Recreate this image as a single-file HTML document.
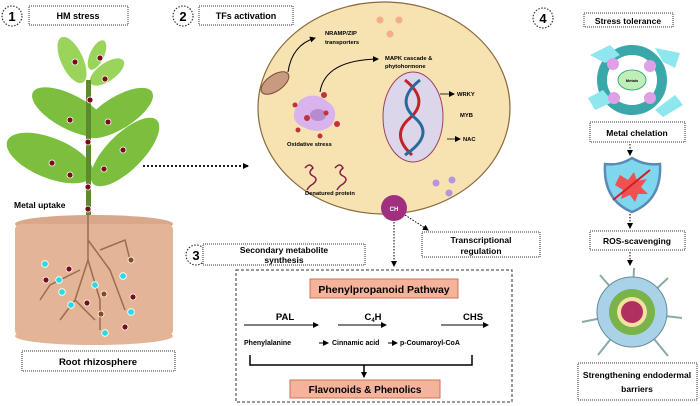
<!DOCTYPE html>
<html><head><meta charset="utf-8"><style>
body{margin:0;background:#fff}
svg{display:block;font-family:"Liberation Sans",Arial,sans-serif;font-weight:bold}
</style></head><body>
<svg width="700" height="406" viewBox="0 0 700 406" xmlns="http://www.w3.org/2000/svg">
<defs>
<marker id="ah" markerWidth="6" markerHeight="6" refX="5" refY="3" orient="auto" markerUnits="userSpaceOnUse"><path d="M0,0L6,3L0,6z" fill="#000"/></marker>
</defs>
<g fill="#fff" stroke="#334" stroke-dasharray="1.5,1.5" stroke-width="1.2">
<circle cx="12" cy="16" r="10"/><circle cx="183" cy="16" r="10"/><circle cx="196" cy="255" r="10"/><circle cx="543" cy="18" r="10"/>
</g>
<g font-size="13" text-anchor="middle"><text x="12" y="21">1</text><text x="183" y="21">2</text><text x="196" y="260">3</text><text x="543" y="23">4</text></g>
<g fill="#fff" stroke="#333" stroke-dasharray="1,1" stroke-width="1">
<rect x="29" y="6" width="99" height="19"/><rect x="199" y="6" width="94" height="19"/>
<rect x="22" y="351" width="153" height="20"/><rect x="203" y="244" width="162" height="21"/>
<rect x="422" y="232" width="118" height="25"/><rect x="584" y="13" width="89" height="14"/>
<rect x="590" y="122" width="95" height="20"/><rect x="590" y="231" width="95" height="19"/>
<rect x="578" y="363" width="119" height="37"/>
</g>
<g font-size="9" text-anchor="middle">
<text x="78" y="19">HM stress</text><text x="246" y="19">TFs activation</text>
<text x="98" y="365" font-size="9.5">Root rhizosphere</text>
<text x="284" y="253" font-size="8.5">Secondary metabolite</text><text x="284" y="263" font-size="8.5">synthesis</text>
<text x="481" y="243" font-size="8.5">Transcriptional</text><text x="481" y="254" font-size="8.5">regulation</text>
<text x="628" y="24" font-size="8.5">Stress tolerance</text><text x="637" y="136" font-size="8.5">Metal chelation</text>
<text x="637" y="244" font-size="8.5">ROS-scavenging</text>
<text x="637" y="378" font-size="8.5">Strengthening endodermal</text><text x="637" y="392" font-size="8.5">barriers</text>
</g>
<!-- plant -->
<ellipse cx="94" cy="224" rx="79" ry="9" fill="#d9a88a"/>
<rect x="15" y="224" width="158" height="112" rx="6" fill="#e3b596"/>
<ellipse cx="94" cy="336" rx="79" ry="9" fill="#e3b596"/>
<g stroke="#9b6d4e" stroke-width="1.5" fill="none">
<path d="M88,215 L88,260 L75,300 L60,320"/><path d="M88,240 L110,270 L125,310"/><path d="M88,260 L100,300 L100,330"/><path d="M80,270 L50,285 L40,300"/><path d="M100,250 L125,240 L130,260"/><path d="M75,300 L95,320"/>
</g>
<g fill="#7cbf3f">
<ellipse cx="70" cy="112" rx="42" ry="17" transform="rotate(28 70 112)"/>
<ellipse cx="118" cy="113" rx="40" ry="16" transform="rotate(-32 118 113)"/>
<ellipse cx="50" cy="158" rx="46" ry="20" transform="rotate(22 50 158)"/>
<ellipse cx="125" cy="152" rx="45" ry="18" transform="rotate(-45 125 152)"/>
</g>
<g fill="#9bd45a">
<ellipse cx="72" cy="60" rx="25" ry="11" transform="rotate(65 72 60)"/>
<ellipse cx="107" cy="72" rx="20" ry="9" transform="rotate(-35 107 72)"/>
<ellipse cx="97" cy="55" rx="16" ry="7" transform="rotate(-65 97 55)"/>
</g>
<rect x="86" y="80" width="5" height="135" fill="#5d8a2e"/>
<g fill="#7a0d1a" stroke="#fff" stroke-width="0.8">
<circle cx="75" cy="62" r="3"/><circle cx="100" cy="58" r="3"/><circle cx="105" cy="79" r="3"/><circle cx="90" cy="100" r="3"/><circle cx="70" cy="120" r="3"/><circle cx="108" cy="122" r="3"/><circle cx="88" cy="142" r="3"/><circle cx="123" cy="150" r="3"/><circle cx="52" cy="163" r="3"/><circle cx="70" cy="175" r="3"/><circle cx="104" cy="169" r="3"/><circle cx="88" cy="187" r="3"/><circle cx="88" cy="209" r="3"/>
<circle cx="69" cy="269" r="3"/><circle cx="46" cy="280" r="3"/><circle cx="87" cy="303" r="3"/><circle cx="133" cy="297" r="3"/><circle cx="125" cy="327" r="3"/>
</g>
<g fill="#8a4a1c" stroke="#fff" stroke-width="0.8"><circle cx="131" cy="260" r="3"/><circle cx="104" cy="294" r="3"/><circle cx="101" cy="314" r="3"/></g>
<g fill="#29d9e6" stroke="#fff" stroke-width="0.8"><circle cx="45" cy="264" r="3.3"/><circle cx="59" cy="280" r="3.3"/><circle cx="62" cy="292" r="3.3"/><circle cx="71" cy="305" r="3.3"/><circle cx="95" cy="285" r="3.3"/><circle cx="123" cy="276" r="3.3"/><circle cx="131" cy="312" r="3.3"/><circle cx="105" cy="333" r="3.3"/></g>
<text x="14" y="208" font-size="8.5">Metal uptake</text>
<line x1="143" y1="166" x2="248" y2="166" stroke="#000" stroke-width="1.8" stroke-dasharray="2,2" marker-end="url(#ah)"/>
<!-- cell -->
<ellipse cx="384" cy="108" rx="126" ry="106" fill="#f7e3b2" stroke="#8a6a3c" stroke-width="1.2"/>
<g fill="#f2ae84"><circle cx="380" cy="20" r="3.5"/><circle cx="399" cy="20" r="3.5"/><circle cx="390" cy="34" r="3.5"/></g>
<g fill="#b594e0"><circle cx="436" cy="183" r="3.5"/><circle cx="452" cy="180" r="3.5"/><circle cx="449" cy="193" r="3.5"/></g>
<ellipse cx="275" cy="83" rx="16" ry="8" transform="rotate(-35 275 83)" fill="#c89a80" stroke="#7a4a3a"/>
<path d="M300,100 Q315,90 328,102 Q340,110 332,125 Q320,135 305,128 Q290,122 295,110z" fill="#d9b3ec"/>
<ellipse cx="318" cy="115" rx="8" ry="6" fill="#b88ad0"/>
<g fill="#c0333a"><circle cx="324" cy="95" r="3"/><circle cx="295" cy="105" r="2.5"/><circle cx="307" cy="118" r="3"/><circle cx="326" cy="113" r="2.5"/><circle cx="337" cy="124" r="3"/><circle cx="320" cy="136" r="2.5"/><circle cx="298" cy="130" r="2.5"/></g>
<path d="M288,72 Q292,45 315,38" fill="none" stroke="#000" marker-end="url(#ah)"/>
<path d="M320,92 Q325,60 378,59" fill="none" stroke="#000" marker-end="url(#ah)"/>
<g font-size="5.8"><text x="325" y="35">NRAMP/ZIP</text><text x="325" y="44">transporters</text><text x="385" y="60">MAPK cascade &amp;</text><text x="385" y="68">phytohormone</text>
<text x="287" y="146">Oxidative stress</text><text x="305" y="195">Denatured protein</text>
<text x="457" y="96">WRKY</text><text x="460" y="117">MYB</text><text x="463" y="141">NAC</text></g>
<g fill="none" stroke="#8a1a4a" stroke-width="1.5"><path d="M305,168 q5,-6 8,0 q-6,5 0,8 q6,3 0,8 q-4,2 -6,6"/><path d="M335,168 q5,-6 8,0 q-6,5 0,8 q6,3 0,8 q-4,2 -6,6"/></g>
<ellipse cx="413" cy="117" rx="30" ry="45" fill="#dcd6ea" stroke="#a04060"/>
<path d="M405,80 Q430,100 410,118 Q390,135 412,155" fill="none" stroke="#c2222a" stroke-width="3"/>
<path d="M420,80 Q395,100 415,118 Q435,135 405,155" fill="none" stroke="#2a6a9a" stroke-width="3"/>
<g stroke="#000" stroke-width="0.8" marker-end="url(#ah)"><line x1="440" y1="94" x2="454" y2="94"/><line x1="447" y1="139" x2="460" y2="139"/></g>
<circle cx="394" cy="208" r="13" fill="#a0307f"/><text x="394" y="211" font-size="6" fill="#fff" text-anchor="middle">CH</text>
<line x1="394" y1="222" x2="394" y2="266" stroke="#000" stroke-dasharray="1.5,1.5" marker-end="url(#ah)"/>
<line x1="405" y1="215" x2="428" y2="230" stroke="#000" stroke-dasharray="1.5,1.5" marker-end="url(#ah)"/>
<!-- pathway -->
<rect x="236" y="270" width="276" height="132" fill="none" stroke="#333" stroke-dasharray="3,2"/>
<rect x="310" y="279" width="148" height="19" fill="#f4b39a" stroke="#d07050"/>
<text x="384" y="293" font-size="10.5" text-anchor="middle">Phenylpropanoid Pathway</text>
<g font-size="9.5" text-anchor="middle"><text x="285" y="320">PAL</text><text x="373" y="320">C<tspan font-size="6" dy="2">4</tspan><tspan dy="-2">H</tspan></text><text x="473" y="320">CHS</text></g>
<g stroke="#000" marker-end="url(#ah)"><line x1="244" y1="325" x2="318" y2="325" stroke="#555" stroke-width="1.5"/><line x1="338" y1="325" x2="386" y2="325"/><line x1="441" y1="325" x2="488" y2="325"/><line x1="319" y1="343" x2="328" y2="343"/><line x1="388" y1="343" x2="397" y2="343"/></g>
<g font-size="7"><text x="244" y="345">Phenylalanine</text><text x="332" y="345">Cinnamic acid</text><text x="400" y="345">p-Coumaroyl-CoA</text></g>
<path d="M250,355 V365 H472 V355" fill="none" stroke="#000" stroke-width="1.5"/>
<line x1="364" y1="365" x2="364" y2="377" stroke="#000" stroke-width="1.5" marker-end="url(#ah)"/>
<rect x="290" y="380" width="150" height="18" fill="#f4b39a" stroke="#d07050"/>
<text x="365" y="393" font-size="10" text-anchor="middle">Flavonoids &amp; Phenolics</text>
<!-- right column -->
<circle cx="632" cy="80" r="30" fill="none" stroke="#3aa8a8" stroke-width="10"/>
<g fill="#8ee6ee"><path d="M590,55 l20,-10 l10,10 l-15,8z"/><path d="M655,48 l25,5 l-5,15 l-12,-6z"/><path d="M588,98 l15,-8 l10,12 l-18,8z"/><path d="M655,110 l20,-15 l8,10 l-20,12z"/></g>
<ellipse cx="632" cy="80" rx="14" ry="10" fill="#bfeeb8" stroke="#4a8"/><text x="632" y="82" font-size="4" text-anchor="middle">Metals</text>
<g fill="#e0a0e8"><circle cx="613" cy="64" r="6"/><circle cx="650" cy="66" r="6"/><circle cx="614" cy="98" r="6"/><circle cx="650" cy="98" r="6"/></g>
<g stroke="#000" stroke-dasharray="1.5,1.5" marker-end="url(#ah)"><line x1="630" y1="144" x2="630" y2="155"/><line x1="630" y1="214" x2="630" y2="228"/><line x1="630" y1="252" x2="630" y2="265"/></g>
<path d="M632,158 Q645,166 660,164 Q662,200 632,212 Q603,200 605,164 Q620,166 632,158z" fill="#7fd7ee" stroke="#5a8ab8" stroke-width="2.5"/>
<path d="M620,175 l8,5 l6,-8 l3,9 l10,-2 l-6,8 l7,7 l-10,0 l-3,8 l-5,-7 l-9,4 l2,-9 l-8,-5z" fill="#f05050"/>
<line x1="613" y1="200" x2="650" y2="170" stroke="#d02020" stroke-width="2"/>
<g stroke="#8aa" stroke-width="2" fill="none"><line x1="632" y1="312" x2="600" y2="275"/><line x1="632" y1="312" x2="668" y2="278"/><line x1="632" y1="312" x2="582" y2="322"/><line x1="632" y1="312" x2="682" y2="318"/><line x1="632" y1="312" x2="598" y2="355"/><line x1="632" y1="312" x2="668" y2="356"/><line x1="632" y1="312" x2="634" y2="268"/></g>
<circle cx="632" cy="312" r="35" fill="#a8d2e8" stroke="#6a8a9a"/>
<circle cx="632" cy="312" r="23" fill="#7ab34a"/>
<circle cx="632" cy="312" r="15" fill="#f6e0a0"/>
<circle cx="632" cy="312" r="11" fill="#b03060"/>
</svg>
</body></html>
